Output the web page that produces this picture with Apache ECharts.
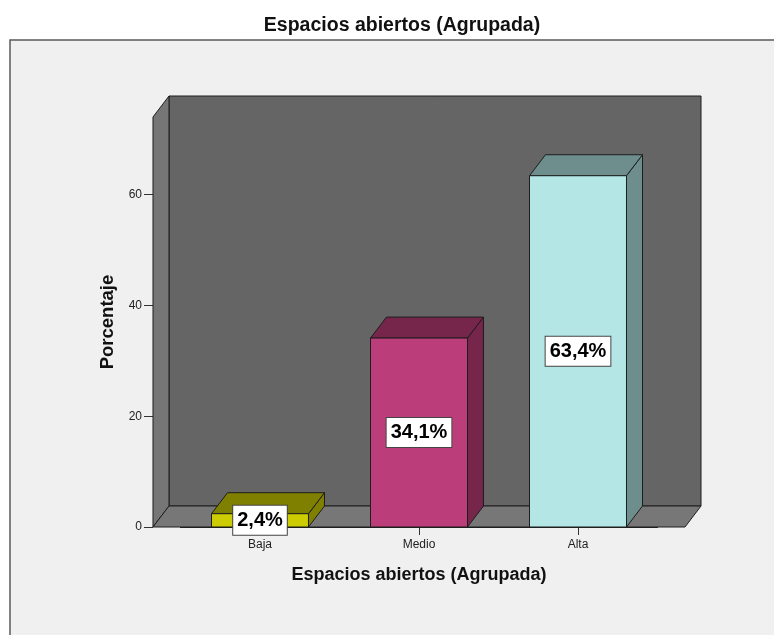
<!DOCTYPE html>
<html>
<head>
<meta charset="utf-8">
<script src="https://cdn.jsdelivr.net/npm/echarts@6/dist/echarts.min.js"></script>
<style>
  html, body { margin: 0; padding: 0; background: #ffffff; }
  #chart { width: 774px; height: 635px; }
</style>
</head>
<body>
<div id="chart"></div>
<script>
// ---- data ----
const chartTitle = 'Espacios abiertos (Agrupada)';
const xAxisTitle = 'Espacios abiertos (Agrupada)';
const yAxisTitle = 'Porcentaje';
const categories = ['Baja', 'Medio', 'Alta'];
const percentages = [2.4, 34.1, 63.4];
const yTickValues = [0, 20, 40, 60];
const yMin = 0;
const yMax = 74;
const yInterval = 20;

// ---- styles ----
const FONT = '"Liberation Sans", Arial, sans-serif';
const faceColors = [
  { front: '#cccc00', top: '#7f7f00', side: '#7f7f00' },
  { front: '#bb3e7b', top: '#76254b', side: '#76254b' },
  { front: '#b4e6e6', top: '#6e8d8d', side: '#6e8d8d' }
];
const DX = 16, DY = -21;
const EDGE = '#1e1e1e';

function fmtPct(v) { return v.toFixed(1).replace('.', ',') + '%'; }

const chart = echarts.init(document.getElementById('chart'));

const option = {
  backgroundColor: '#ffffff',
  animation: false,
  title: {
    text: chartTitle,
    left: 397,
    top: 11,
    textAlign: 'center',
    textStyle: { fontFamily: FONT, fontSize: 19.5, fontWeight: 'bold', color: '#111' }
  },
  graphic: [{
    type: 'rect',
    z: -10,
    shape: { x: 10, y: 40, width: 800, height: 640 },
    style: { fill: '#f0f0f0', stroke: '#5a5a5a', lineWidth: 1.5 }
  }],
  grid: { left: 180.5, right: 116.5, top: 117, bottom: 108 },
  xAxis: {
    type: 'category',
    data: categories,
    name: xAxisTitle,
    nameLocation: 'middle',
    nameGap: 39,
    nameTextStyle: { fontFamily: FONT, fontSize: 18, fontWeight: 'bold', color: '#111' },
    axisLine: { show: true, lineStyle: { color: EDGE, width: 1 } },
    axisTick: { show: true, alignWithLabel: true, length: 8, lineStyle: { color: '#333' } },
    axisLabel: { fontFamily: FONT, fontSize: 12, color: '#222', margin: 12 },
    splitLine: { show: false }
  },
  yAxis: {
    type: 'value',
    min: yMin,
    max: yMax,
    interval: yInterval,
    offset: 27.5,
    name: yAxisTitle,
    nameLocation: 'middle',
    nameGap: 35,
    nameTextStyle: { fontFamily: FONT, fontSize: 18.5, fontWeight: 'bold', color: '#111' },
    axisLine: { show: false },
    axisTick: { show: true, length: 9, customValues: yTickValues, lineStyle: { color: '#333' } },
    axisLabel: { fontFamily: FONT, fontSize: 12, color: '#222', margin: 11, customValues: yTickValues },
    splitLine: { show: false }
  },
  series: [
    {
      type: 'custom',
      name: 'walls',
      z: 1,
      silent: true,
      data: [[0, 0]],
      renderItem: function (params, api) {
        const cs = params.coordSys;
        const band = api.size([1, 0])[0];
        const ext = band * 0.173;
        const x0 = cs.x - ext, x1 = cs.x + cs.width + ext;
        const yt = cs.y, yb = cs.y + cs.height;
        const st = { stroke: EDGE, lineWidth: 1 };
        return {
          type: 'group',
          children: [
            { type: 'rect', shape: { x: x0 + DX, y: yt + DY, width: x1 - x0, height: yb - yt },
              style: Object.assign({ fill: '#656565' }, st) },
            { type: 'polygon', shape: { points: [[x0, yb], [x0, yt], [x0 + DX, yt + DY], [x0 + DX, yb + DY]] },
              style: Object.assign({ fill: '#767676' }, st) },
            { type: 'polygon', shape: { points: [[x0, yb], [x0 + DX, yb + DY], [x1 + DX, yb + DY], [x1, yb]] },
              style: Object.assign({ fill: '#777777' }, st) }
          ]
        };
      }
    },
    {
      type: 'custom',
      name: 'Porcentaje',
      z: 2,
      data: percentages.map(function (v, i) { return [i, v]; }),
      renderItem: function (params, api) {
        const i = api.value(0), v = api.value(1);
        const top = api.coord([i, v]);
        const base = api.coord([i, 0]);
        const band = api.size([1, 0])[0];
        const w = band * 0.61;
        const x0 = top[0] - w / 2, x1 = top[0] + w / 2;
        const yt = top[1], yb = base[1];
        const c = faceColors[i];
        const st = { stroke: EDGE, lineWidth: 1 };
        return {
          type: 'group',
          children: [
            { type: 'polygon', shape: { points: [[x1, yb], [x1, yt], [x1 + DX, yt + DY], [x1 + DX, yb + DY]] },
              style: Object.assign({ fill: c.side }, st) },
            { type: 'polygon', shape: { points: [[x0, yt], [x0 + DX, yt + DY], [x1 + DX, yt + DY], [x1, yt]] },
              style: Object.assign({ fill: c.top }, st) },
            { type: 'rect', shape: { x: x0, y: yt, width: w, height: yb - yt },
              style: Object.assign({ fill: c.front }, st) },
            { type: 'text', z2: 20, x: top[0], y: (yt + yb) / 2,
              style: {
                text: fmtPct(v),
                font: 'bold 20px ' + FONT,
                fill: '#000',
                align: 'center',
                verticalAlign: 'middle',
                backgroundColor: '#ffffff',
                borderColor: '#444',
                borderWidth: 1,
                padding: [5, 4, 4, 4]
              } }
          ]
        };
      }
    }
  ]
};

chart.setOption(option);
</script>
</body>
</html>
